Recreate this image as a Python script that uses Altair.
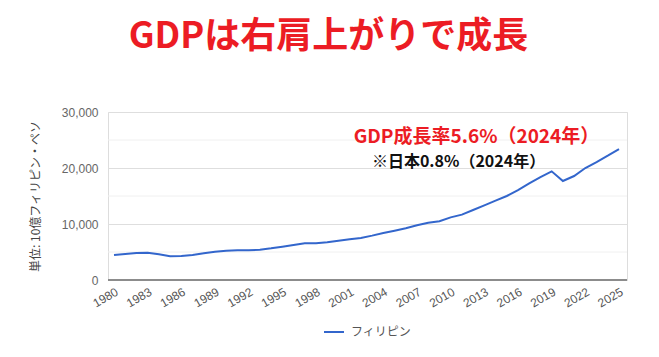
import altair as alt
import pandas as pd

years = list(range(1980, 2026))
gdp = [4460, 4640, 4820, 4880, 4580, 4230, 4290, 4460, 4760, 5060,
       5240, 5300, 5300, 5420, 5650, 5950, 6250, 6550, 6550, 6730,
       7020, 7260, 7500, 7920, 8390, 8810, 9230, 9760, 10240, 10480,
       11190, 11670, 12500, 13330, 14170, 15000, 16070, 17260, 18390, 19400,
       17680, 18570, 20000, 21070, 22200, 23390]
series_name = "フィリピン"
x_ticks = list(range(1980, 2026, 3))
y_major = [0, 10000, 20000, 30000]
y_minor = [5000, 15000, 25000]
title_text = "GDPは右肩上がりで成長"
y_title = "単位: 10億フィリピン・ペソ"
note_red = "GDP成長率5.6%（2024年）"
note_black = "※日本0.8%（2024年）"

RED = "#ec1c24"
JP = "Noto Sans CJK JP"
LAT = "Liberation Sans"

df = pd.DataFrame({"year": years, "gdp": gdp, "series": series_name})

xscale = alt.Scale(domain=[1979.465, 2025.713], nice=False, zero=False)
yscale = alt.Scale(domain=[0, 30000], nice=False)

xaxis = alt.Axis(values=x_ticks, format="d", labelAngle=-30, labelAlign="right",
                 labelBaseline="top", labelPadding=6, ticks=False, domain=False,
                 grid=False, title=None, labelFont=LAT, labelFontSize=12,
                 labelColor="#555555", labelOverlap=False, labelBound=False,
                 labelFlush=False)
yaxis = alt.Axis(values=y_major, format=",d", ticks=False, domain=False,
                 labelPadding=10, labelFont=LAT, labelFontSize=12,
                 labelColor="#666666", gridColor="#dedede", gridWidth=1,
                 title=y_title, titleFont=JP, titleFontSize=12,
                 titleFontWeight="normal", titleColor="#444444",
                 titleAngle=-90, titleX=-73, titleY=84,
                 titleAlign="center", titleBaseline="middle")

line = alt.Chart(df).mark_line(strokeWidth=2).encode(
    x=alt.X("year:Q", scale=xscale, axis=xaxis),
    y=alt.Y("gdp:Q", scale=yscale, axis=yaxis),
    color=alt.Color("series:N", scale=alt.Scale(range=["#3366cc"]),
                    legend=alt.Legend(title=None, orient="none", legendX=215, legendY=209,
                                      symbolType="stroke", symbolSize=400,
                                      symbolStrokeWidth=2, labelFont=JP,
                                      labelFontSize=12, labelColor="#555555",
                                      labelOffset=6, padding=0)),
)

minor = alt.Chart(pd.DataFrame({"gdp": y_minor})).mark_rule(color="#f0f0f0", strokeWidth=1).encode(
    y=alt.Y("gdp:Q", scale=yscale, axis=yaxis)
)

base = alt.Chart(pd.DataFrame({"gdp": [0]})).mark_rule(color="#8c8c8c", strokeWidth=2).encode(
    y=alt.Y("gdp:Q", scale=yscale, axis=yaxis)
)

notes = pd.DataFrame({
    "year": [2012.3, 2010.7],
    "gdp": [25540, 21070],
    "txt": [note_red, note_black],
})
red_txt = alt.Chart(notes.iloc[[0]]).mark_text(
    font=JP, fontSize=19, fontWeight="bold", color=RED, align="center", baseline="middle"
).encode(x=alt.X("year:Q", scale=xscale, axis=xaxis),
         y=alt.Y("gdp:Q", scale=yscale, axis=yaxis), text="txt:N")
blk_txt = alt.Chart(notes.iloc[[1]]).mark_text(
    font=JP, fontSize=16, fontWeight="bold", color="#111111", align="center", baseline="middle"
).encode(x=alt.X("year:Q", scale=xscale, axis=xaxis),
         y=alt.Y("gdp:Q", scale=yscale, axis=yaxis), text="txt:N")

chart = alt.layer(minor, line, base, red_txt, blk_txt).properties(
    width=519, height=168,
    autosize=alt.AutoSizeParams(type="none"),
    padding={"left": 108, "top": 112, "right": 32, "bottom": 77},
    title=alt.TitleParams(title_text, anchor="middle", frame="group", dx=-39, offset=33,
                          baseline="middle", font=JP, fontSize=36, fontWeight="bold",
                          color=RED),
).configure_view(stroke=None).configure(background="white")

chart.save("out.html", embed_options={"renderer": "svg", "actions": False})
